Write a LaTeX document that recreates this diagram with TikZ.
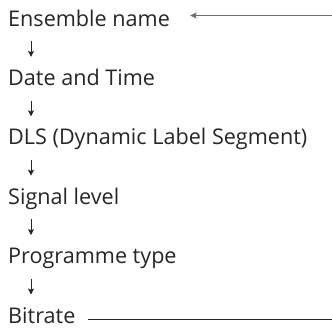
\documentclass[tikz,border=0pt]{standalone}
\usepackage{fontspec}
\setmainfont{Open Sans}
\usetikzlibrary{arrows.meta,calc}
\definecolor{txt}{HTML}{262626}
\definecolor{lgray}{HTML}{6E6E6E}
\begin{document}
\begin{tikzpicture}[x=1pt,y=-1pt,
  lbl/.style={anchor=base west,inner sep=0pt,text height=15pt,text depth=5pt,
    font=\fontsize{21.6}{24}\selectfont,text=txt},
  varr/.style={-{Stealth[length=6pt,width=6pt,inset=1.2pt]},line width=1pt,color=txt,
    shorten <=10pt,shorten >=13.3pt},
  harr/.style={-{Stealth[length=6.5pt,width=6pt,inset=1.2pt]},line width=1.2pt,color=lgray},
  hline/.style={line width=1pt,color=txt}]
\useasboundingbox (0,0) rectangle (332,327);
\node[lbl] (e) at (8,26) {Ensemble name};
\node[lbl] (d) at (8,85.4) {Date and Time};
\node[lbl] (l) at (8,144.8) {DLS (Dynamic Label Segment)};
\node[lbl] (s) at (8,204.2) {Signal level};
\node[lbl] (p) at (8,263.6) {Programme type};
\node[lbl] (b) at (8,323) {Bitrate};
\foreach \u/\v in {e/d,d/l,l/s,s/p,p/b}{
  \draw[varr] ([xshift=23pt]\u.south west) -- ([xshift=23pt]\v.north west);
}
\coordinate (r1) at (332,15.5);
\coordinate (r2) at (332,319);
\draw[harr] (r1) -- ([xshift=20pt]r1 -| e.east);
\draw[hline] (r2) -- ([xshift=12pt]r2 -| b.east);
\end{tikzpicture}
\end{document}
